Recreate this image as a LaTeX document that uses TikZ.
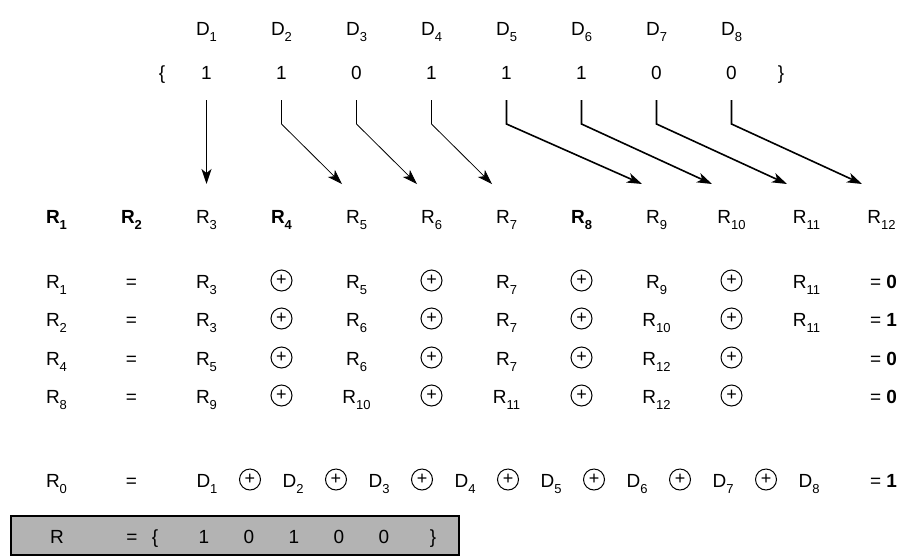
\documentclass[tikz,border=0pt]{standalone}
\usepackage{fontspec}
\setmainfont{Liberation Sans}
\usetikzlibrary{arrows.meta}
\definecolor{boxgray}{RGB}{179,179,179}
\newcommand{\sbs}[1]{\raisebox{-0.33em}{\fontsize{13}{14}\selectfont #1}}
\newcommand{\Rr}[1]{R\sbs{#1}}
\newcommand{\RB}[1]{\textbf{R\sbs{#1}}}
\newcommand{\Dd}[1]{D\sbs{#1}}
\begin{document}
\begin{tikzpicture}[x=1pt,y=-1pt,
  txt/.style={font=\fontsize{19}{21}\selectfont, inner sep=0pt, anchor=base},
  xo/.style={circle, draw, line width=1pt, minimum size=21pt, inner sep=0pt, font=\fontsize{18}{18}\selectfont},
  thick line/.style={line width=1.6pt},
  thin line/.style={line width=0.8pt},
  tipped/.style={-{Stealth[length=15pt,width=10pt,inset=4pt]}},
  resbox/.style={draw, line width=1.5pt, fill=boxgray, inner sep=0pt, anchor=north west}
]
\useasboundingbox (0,0) rectangle (907,555);

% D labels and values
\foreach \k in {1,...,8}{
  \node[txt] (d\k) at ({56.5+75*(\k+1)},35) {\Dd{\k}};
}
\foreach \k/\v in {1/1,2/1,3/0,4/1,5/1,6/1,7/0,8/0}{
  \node[txt] (v\k) at ({56.5+75*(\k+1)},79) {\v};
}
\node[txt] (lb) at (162,79) {\{};
\node[txt] (rb) at (781,79) {\}};

% header R row
\foreach \k in {1,...,12}{
  \coordinate (rc\k) at ({56.5+75*(\k-1)},223);
}
\node[txt] (r1) at (rc1) {\RB{1}};
\node[txt] (r2) at (rc2) {\RB{2}};
\node[txt] (r3) at (rc3) {\Rr{3}};
\node[txt] (r4) at (rc4) {\RB{4}};
\node[txt] (r5) at (rc5) {\Rr{5}};
\node[txt] (r6) at (rc6) {\Rr{6}};
\node[txt] (r7) at (rc7) {\Rr{7}};
\node[txt] (r8) at (rc8) {\RB{8}};
\node[txt] (r9) at (rc9) {\Rr{9}};
\node[txt] (r10) at (rc10) {\Rr{10}};
\node[txt] (r11) at (rc11) {\Rr{11}};
\node[txt] (r12) at (rc12) {\Rr{12}};

% arrows
\foreach \k in {1,...,8}{
  \coordinate (s\k) at ({56.5+75*(\k+1)},100);
  \coordinate (b\k) at ({56.5+75*(\k+1)},124);
}
\coordinate (t1) at (206.5,184);
\coordinate (t2) at (342,184);
\coordinate (t3) at (417,184);
\coordinate (t4) at (492,184);
\coordinate (t5) at (642,184);
\coordinate (t6) at (712,184);
\coordinate (t7) at (787,184);
\coordinate (t8) at (862,184);
\draw[thick line, tipped] (s1) -- (t1);
\foreach \k in {2,3,4}{
  \draw[thick line] (s\k) -- (b\k);
  \draw[thin line, tipped] (b\k) -- (t\k);
}
\foreach \k in {5,...,8}{
  \draw[thick line, tipped, line join=miter] (s\k) -- (b\k) -- (t\k);
}

% equations
\foreach \row/\yb in {1/288,2/326,3/365,4/403}{
  \node[txt] (eq\row) at (131.5,\yb) {=};
  \foreach \c in {4,6,8,10}{
    \node[xo] (o\row-\c) at ({56.5+75*(\c-1)},\yb-7.5) {+};
  }
}
\foreach \c/\t in {1/{\Rr{1}},3/{\Rr{3}},5/{\Rr{5}},7/{\Rr{7}},9/{\Rr{9}},11/{\Rr{11}}}{
  \node[txt] (a1-\c) at ({56.5+75*(\c-1)},288) {\t};
}
\node[txt] (a1-12) at (883.5,288) {= \textbf{0}};
\foreach \c/\t in {1/{\Rr{2}},3/{\Rr{3}},5/{\Rr{6}},7/{\Rr{7}},9/{\Rr{10}},11/{\Rr{11}}}{
  \node[txt] (a2-\c) at ({56.5+75*(\c-1)},326) {\t};
}
\node[txt] (a2-12) at (883.5,326) {= \textbf{1}};
\foreach \c/\t in {1/{\Rr{4}},3/{\Rr{5}},5/{\Rr{6}},7/{\Rr{7}},9/{\Rr{12}}}{
  \node[txt] (a3-\c) at ({56.5+75*(\c-1)},365) {\t};
}
\node[txt] (a3-12) at (883.5,365) {= \textbf{0}};
\foreach \c/\t in {1/{\Rr{8}},3/{\Rr{9}},5/{\Rr{10}},7/{\Rr{11}},9/{\Rr{12}}}{
  \node[txt] (a4-\c) at ({56.5+75*(\c-1)},403) {\t};
}
\node[txt] (a4-12) at (883.5,403) {= \textbf{0}};

% parity row
\node[txt] (p0) at (56.5,487) {\Rr{0}};
\node[txt] (peq) at (131.5,487) {=};
\foreach \k in {1,...,8}{
  \node[txt] (pd\k) at ({207+86*(\k-1)},487) {\Dd{\k}};
}
\foreach \k in {1,...,7}{
  \node[xo] (po\k) at ({250+86*(\k-1)},479.5) {+};
}
\node[txt] (pres) at (883.5,487) {= \textbf{1}};

% result box
\node[resbox, minimum width=448pt, minimum height=39pt] (box) at (10,515) {};
\node[txt] (bR) at (57,543) {R};
\node[txt] (beq) at (132,543) {=};
\node[txt] (blb) at (155,543) {\{};
\foreach \k/\v in {1/1,2/0,3/1,4/0,5/0}{
  \node[txt] (bv\k) at ({204+45*(\k-1)},543) {\v};
}
\node[txt] (brb) at (433,543) {\}};
\end{tikzpicture}
\end{document}
